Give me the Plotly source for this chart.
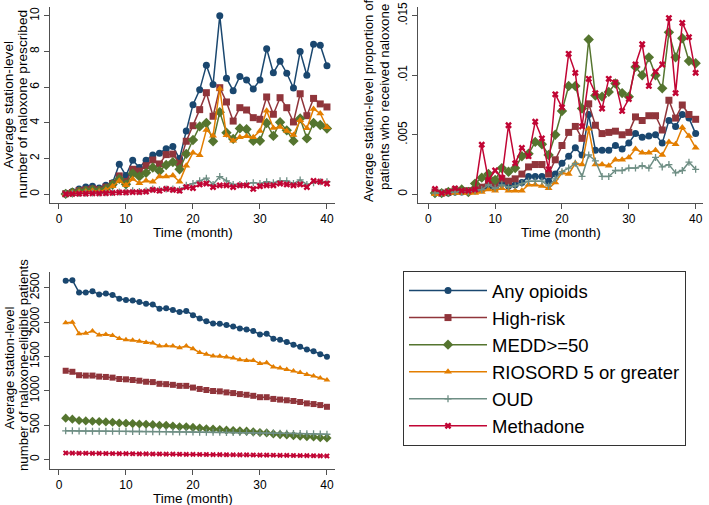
import plotly.graph_objects as go

months = list(range(1, 41))
series_names = ["Any opioids", "High-risk", "MEDD>=50", "RIOSORD 5 or greater", "OUD", "Methadone"]

# Panel A: average station-level number of naloxone prescribed
rx_any = [0.05, 0.15, 0.3, 0.4, 0.45, 0.35, 0.5, 0.65, 1.68, 1.05, 1.9, 1.5, 1.9, 2.2, 2.3, 2.55, 2.67, 2.0,
          3.55, 5.02, 5.85, 7.22, 6.15, 10.0, 6.5, 5.8, 6.6, 6.4, 5.9, 6.4, 8.15, 6.8, 7.45, 6.78, 5.95, 8.0,
          6.67, 8.4, 8.35, 7.2]
rx_high = [0.03, 0.1, 0.2, 0.25, 0.3, 0.25, 0.4, 0.6, 1.03, 0.71, 1.4, 1.3, 1.6, 1.92, 1.7, 2.22, 2.25, 1.73,
           2.97, 3.84, 4.74, 5.69, 4.37, 5.97, 5.17, 4.1, 4.85, 4.72, 4.29, 4.2, 5.45, 4.48, 5.41, 4.85, 4.05,
           5.63, 4.4, 5.37, 5.06, 4.89]
rx_medd = [0.02, 0.1, 0.15, 0.2, 0.25, 0.2, 0.3, 0.55, 0.86, 0.56, 1.16, 1.0, 1.2, 1.5, 1.3, 1.64, 1.8, 1.4,
           2.26, 3.04, 3.8, 3.99, 2.97, 4.6, 3.45, 3.1, 3.69, 3.64, 2.99, 3.0, 3.99, 3.27, 4.03, 3.58, 2.99,
           4.25, 3.13, 3.99, 3.88, 3.68]
rx_rios = [0.02, 0.08, 0.12, 0.15, 0.2, 0.15, 0.25, 0.45, 0.75, 0.5, 0.85, 0.62, 0.75, 0.7, 1.0, 1.0, 1.05, 0.7,
           1.6, 2.33, 2.18, 3.6, 3.28, 5.91, 3.3, 3.0, 3.19, 3.25, 3.2, 3.54, 4.68, 3.71, 3.77, 3.55, 3.32,
           4.14, 3.7, 4.78, 4.53, 3.75]
rx_oud = [0.02, 0.04, 0.05, 0.06, 0.07, 0.07, 0.08, 0.1, 0.12, 0.12, 0.2, 0.15, 0.2, 0.3, 0.25, 0.3, 0.3, 0.25,
          0.5, 0.6, 0.75, 0.9, 0.55, 0.99, 0.75, 0.55, 0.55, 0.6, 0.65, 0.6, 0.7, 0.65, 0.75, 0.75, 0.6, 0.8,
          0.55, 0.65, 0.7, 0.7]
rx_meth = [0.01, 0.02, 0.03, 0.04, 0.05, 0.05, 0.06, 0.08, 0.1, 0.1, 0.12, 0.12, 0.15, 0.25, 0.2, 0.3, 0.25, 0.2,
           0.4, 0.35, 0.55, 0.6, 0.4, 0.5, 0.5, 0.4, 0.5, 0.5, 0.3, 0.45, 0.5, 0.5, 0.6, 0.55, 0.5, 0.55,
           0.4, 0.75, 0.7, 0.6]

# Panel B: average station-level proportion of patients who received naloxone
pr_any = [0.0001, 0.0001, 0.0001, 0.0002, 0.0002, 0.0002, 0.0003, 0.0004, 0.0006, 0.0005, 0.0009, 0.0007,
          0.0008, 0.001, 0.0015, 0.0015, 0.0015, 0.0011, 0.0017, 0.0026, 0.0032, 0.0039, 0.0033, 0.0067,
          0.0037, 0.0037, 0.0037, 0.0041, 0.0038, 0.0043, 0.0051, 0.0048, 0.0049, 0.005, 0.0043, 0.0062,
          0.0057, 0.0067, 0.0064, 0.0051]
pr_high = [0.0002, 0.0001, 0.0002, 0.0003, 0.0003, 0.0003, 0.0004, 0.0006, 0.0011, 0.0008, 0.0013, 0.0011,
           0.0013, 0.0017, 0.0023, 0.0025, 0.0025, 0.0017, 0.0029, 0.0041, 0.0052, 0.0057, 0.0047, 0.0076,
           0.0058, 0.0051, 0.0052, 0.0053, 0.005, 0.0052, 0.0065, 0.0062, 0.0066, 0.0066, 0.0054, 0.0079,
           0.0064, 0.0075, 0.0067, 0.0063]
pr_medd = [0.0001, 0.0001, 0.0002, 0.0003, 0.0004, 0.0002, 0.0009, 0.0014, 0.0017, 0.0012, 0.0022, 0.0019,
           0.0022, 0.0032, 0.0034, 0.0044, 0.0042, 0.0033, 0.005, 0.007, 0.0091, 0.0091, 0.0072, 0.013,
           0.0083, 0.0082, 0.0086, 0.0093, 0.0085, 0.0082, 0.0107, 0.01, 0.0115, 0.01, 0.0089, 0.0136,
           0.0115, 0.0131, 0.0112, 0.011]
pr_rios = [0.0, 0.0, 0.0001, 0.0001, 0.0001, 0.0001, 0.0001, 0.0002, 0.0004, 0.0003, 0.0005, 0.0003,
           0.0003, 0.0003, 0.0008, 0.0008, 0.0007, 0.0005, 0.001, 0.0018, 0.0017, 0.0026, 0.0025, 0.0055,
           0.0025, 0.0025, 0.0024, 0.0029, 0.0029, 0.0031, 0.0038, 0.0035, 0.0035, 0.0037, 0.0033, 0.0044,
           0.0042, 0.0056, 0.0049, 0.0039]
pr_oud = [0.0001, 0.0001, 0.0001, 0.0002, 0.0002, 0.0002, 0.0003, 0.0004, 0.0008, 0.0005, 0.0008, 0.0006,
          0.0007, 0.0009, 0.0011, 0.0011, 0.0011, 0.0007, 0.0013, 0.0019, 0.0022, 0.0026, 0.0015, 0.0033,
          0.0028, 0.0015, 0.0015, 0.002, 0.002, 0.0022, 0.0022, 0.0024, 0.0022, 0.0031, 0.0023, 0.0025,
          0.0018, 0.002, 0.0027, 0.0021]
pr_meth = [0.00045, 0.0001, 0.0002, 0.0005, 0.0003, 0.0003, 0.0004, 0.00417, 0.0012, 0.002, 0.0014, 0.0058,
           0.0026, 0.0039, 0.0032, 0.0061, 0.0047, 0.0021, 0.0084, 0.0073, 0.0118, 0.0102, 0.0057, 0.0097,
           0.0085, 0.0072, 0.0097, 0.0094, 0.007, 0.008, 0.0109, 0.0126, 0.0091, 0.0103, 0.0109, 0.0148,
           0.0085, 0.0144, 0.0132, 0.0102]

# Panel C: average station-level number of naloxone-eligible patients
el_any = [2600, 2610, 2430, 2430, 2450, 2400, 2415, 2395, 2340, 2320, 2315, 2290, 2265, 2255, 2195, 2200,
          2175, 2145, 2160, 2100, 2050, 2010, 1980, 1975, 1955, 1935, 1905, 1890, 1870, 1820, 1830, 1755,
          1740, 1710, 1670, 1640, 1600, 1575, 1530, 1495]
el_high = [1290, 1275, 1225, 1220, 1220, 1205, 1200, 1190, 1170, 1165, 1155, 1145, 1130, 1125, 1100, 1095,
           1085, 1070, 1070, 1045, 1025, 1010, 995, 990, 975, 965, 950, 940, 925, 905, 905, 880, 870, 860,
           850, 835, 815, 805, 790, 765]
el_medd = [600, 585, 565, 560, 555, 550, 545, 540, 530, 525, 520, 515, 510, 505, 495, 495, 485, 475, 475,
           465, 455, 445, 440, 435, 425, 420, 415, 410, 400, 390, 385, 370, 360, 355, 345, 335, 330, 325,
           315, 310]
el_rios = [1990, 1995, 1830, 1835, 1870, 1810, 1820, 1805, 1760, 1740, 1735, 1720, 1700, 1695, 1650, 1655,
           1650, 1625, 1650, 1610, 1555, 1530, 1505, 1500, 1490, 1475, 1450, 1440, 1440, 1395, 1405, 1345,
           1330, 1310, 1285, 1265, 1235, 1215, 1185, 1155]
el_oud = [415, 415, 412, 412, 410, 410, 410, 408, 408, 406, 405, 405, 404, 403, 402, 402, 400, 399, 400,
          398, 396, 395, 394, 393, 392, 391, 390, 389, 388, 385, 386, 382, 380, 378, 377, 375, 373, 371,
          368, 365]
el_meth = [92, 90, 88, 88, 87, 86, 85, 84, 83, 82, 81, 80, 79, 78, 77, 76, 75, 74, 73, 72, 71, 70, 69, 68,
           67, 66, 65, 64, 63, 62, 61, 60, 58, 57, 56, 55, 53, 52, 50, 48]

colors = ["#1a476f", "#90353b", "#55752f", "#e37e00", "#6e8e84", "#c10534"]
symbols = ["circle", "square", "diamond", "triangle-up", "cross-thin-open", "x"]
msizes = [7, 7, 8, 7, 5, 6]

panels = [
    ([rx_any, rx_high, rx_medd, rx_rios, rx_oud, rx_meth], "x", "y"),
    ([pr_any, pr_high, pr_medd, pr_rios, pr_oud, pr_meth], "x2", "y2"),
    ([el_any, el_high, el_medd, el_rios, el_oud, el_meth], "x3", "y3"),
]

fig = go.Figure()
for p, (data, xa, ya) in enumerate(panels):
    for i, vals in enumerate(data):
        mk = dict(symbol=symbols[i], size=msizes[i] if p < 2 else max(msizes[i] - 1, 5), color=colors[i])
        if symbols[i] == "cross-thin-open":
            mk["line"] = dict(color=colors[i], width=1.3)
        else:
            mk["line"] = dict(width=0)
        fig.add_trace(go.Scatter(
            x=months, y=vals, mode="lines+markers", name=series_names[i],
            line=dict(color=colors[i], width=1.5), marker=mk,
            xaxis=xa, yaxis=ya, showlegend=(p == 0), cliponaxis=False))

W, H = 709, 505
FONT = "Liberation Sans, Arial, Helvetica, sans-serif"
TXT = "#000000"
AX = "#505050"


def fx(px):
    return px / W


def fy(py):
    return 1 - py / H


axis_common = dict(showgrid=False, zeroline=False, showline=True, linecolor=AX, linewidth=1,
                   ticks="outside", ticklen=5, tickcolor=AX, tickwidth=1, automargin=False,
                   tickfont=dict(family=FONT, size=12, color=TXT), mirror=False)

fig.update_layout(
    width=W, height=H, margin=dict(l=0, r=0, t=0, b=0, autoexpand=False),
    paper_bgcolor="white", plot_bgcolor="white",
    font=dict(family=FONT, color=TXT),
    xaxis=dict(domain=[fx(50), fx(335)], range=[-1.34, 41.2], tickvals=[0, 10, 20, 30, 40],
               anchor="y", **axis_common),
    yaxis=dict(domain=[fy(203), fy(7)], range=[-0.49, 10.49], tickvals=[0, 2, 4, 6, 8, 10],
               tickangle=-90, anchor="x", **axis_common),
    xaxis2=dict(domain=[fx(418), fx(703)], range=[-1.54, 41.1], tickvals=[0, 10, 20, 30, 40],
                anchor="y2", **axis_common),
    yaxis2=dict(domain=[fy(203), fy(7)], range=[-0.00073, 0.01573], tickvals=[0, 0.005, 0.01, 0.015],
                ticktext=["0", ".005", ".01", ".015"], tickangle=-90, anchor="x2", **axis_common),
    xaxis3=dict(domain=[fx(50), fx(335)], range=[-1.34, 41.2], tickvals=[0, 10, 20, 30, 40],
                anchor="y3", **axis_common),
    yaxis3=dict(domain=[fy(469), fy(271.7)], range=[-141, 2733], tickvals=[0, 500, 1000, 1500, 2000, 2500],
                tickangle=-90, anchor="x3", **axis_common),
    legend=dict(x=fx(403), y=fy(271), xanchor="left", yanchor="top",
                bordercolor="#333333", borderwidth=1, bgcolor="white",
                font=dict(family=FONT, size=18.5, color=TXT), itemwidth=78,
                tracegroupgap=0, entrywidth=277, entrywidthmode="pixels"),
)

ann = [
    dict(text="Average station-level", x=fx(8.5), y=fy(105), textangle=-90, size=13.7),
    dict(text="number of naloxone prescribed", x=fx(22.5), y=fy(104), textangle=-90, size=13.7),
    dict(text="Average station-level proportion of", x=fx(369), y=fy(101), textangle=-90, size=13.3),
    dict(text="patients who received naloxone", x=fx(385), y=fy(97), textangle=-90, size=13.3),
    dict(text="Average station-level", x=fx(8.5), y=fy(368), textangle=-90, size=13.2),
    dict(text="number of naloxone-eligible patients", x=fx(23), y=fy(365), textangle=-90, size=13.2),
    dict(text="Time (month)", x=fx(192.5), y=fy(233), textangle=0, size=13.5),
    dict(text="Time (month)", x=fx(561), y=fy(233), textangle=0, size=13.5),
    dict(text="Time (month)", x=fx(192.5), y=fy(498), textangle=0, size=13.5),
]
for a in ann:
    sz = a.pop("size")
    fig.add_annotation(xref="paper", yref="paper", showarrow=False, xanchor="center", yanchor="middle",
                       font=dict(family=FONT, size=sz, color=TXT), **a)

fig.write_html("out.html", config={"displayModeBar": False},
               post_script="document.body.style.margin='0';document.body.style.overflow='hidden';")
